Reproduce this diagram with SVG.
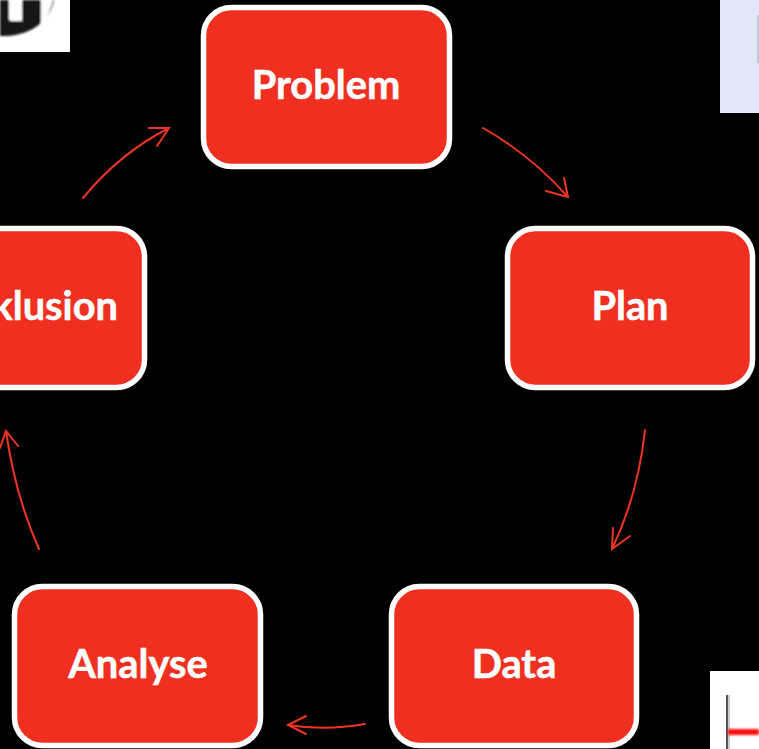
<svg xmlns="http://www.w3.org/2000/svg" width="759" height="749" viewBox="0 0 759 749">
<defs>
<style>
.n{fill:#ef2f1f;stroke:#fff;stroke-width:5.500}
.t{fill:#fff;stroke:#fff;stroke-width:.5;font-family:"Lato","Open Sans",sans-serif;font-weight:700;font-size:39.800px;text-anchor:middle}
.c{fill:none;stroke:#ee3524;stroke-width:2;stroke-linecap:round;stroke-linejoin:miter}
</style>
<filter id="b" x="-20%" y="-20%" width="140%" height="140%"><feGaussianBlur stdDeviation="1"/></filter>
</defs>
<rect width="759" height="749" fill="#000"/>
<g id="fragment-top-left">
<rect width="70" height="52" fill="#fff"/>
<g filter="url(#b)">
<path d="M0 0H54C50 18 35 35 5 36H0Z" fill="#141414"/>
<path d="M9 0H22V21H11Q9 21 9 19Z" fill="#fff"/>
<path d="M41 0H53C50 10 47 18 41 25Z" fill="#fff"/>
</g>
</g>
<g id="fragment-top-right">
<rect x="720" width="39" height="113" fill="#e0e9f5"/>
<rect x="757" y="15" width="2" height="48" fill="#b9c8e2"/>
</g>
<g id="fragment-bottom-right">
<rect x="710" y="671" width="49" height="78" fill="#fff"/>
<rect x="726" y="695" width="2" height="54" fill="#555"/>
<rect x="728" y="695" width="2" height="54" fill="#ccc"/>
<rect x="728" y="729" width="31" height="6" fill="#f11" filter="url(#b)"/>
</g>
<g id="connectors">
<path class="c" d="M483 128Q531 155 568 197M546 191L568 197L564 178"/>
<path class="c" d="M645 430Q638 495 612 549M613 528L612 549L630 536"/>
<path class="c" d="M365 724Q325 731 288 725M306 716L288 725L306 734"/>
<path class="c" d="M39 549Q15 495 6 431M0 448L6 431L18 446"/>
<path class="c" d="M83 198Q120 153 169 128M149 128L169 128L157 146"/>
</g>
<g id="node-problem"><rect class="n" x="203.500" y="7.500" width="246" height="159" rx="28"/><text class="t" x="326" y="99">Problem</text></g>
<g id="node-plan"><rect class="n" x="507.500" y="228.500" width="245" height="159" rx="28"/><text class="t" x="630" y="320">Plan</text></g>
<g id="node-data"><rect class="n" x="391.500" y="586.500" width="245" height="159" rx="28"/><text class="t" x="514" y="678">Data</text></g>
<g id="node-analyse"><rect class="n" x="14.500" y="586.500" width="246" height="159" rx="28"/><text class="t" x="138" y="678">Analyse</text></g>
<g id="node-conclusion"><rect class="n" x="-101" y="228.500" width="245.500" height="159" rx="28"/><text class="t" x="118" y="320" style="text-anchor:end">klusion</text></g>
</svg>
